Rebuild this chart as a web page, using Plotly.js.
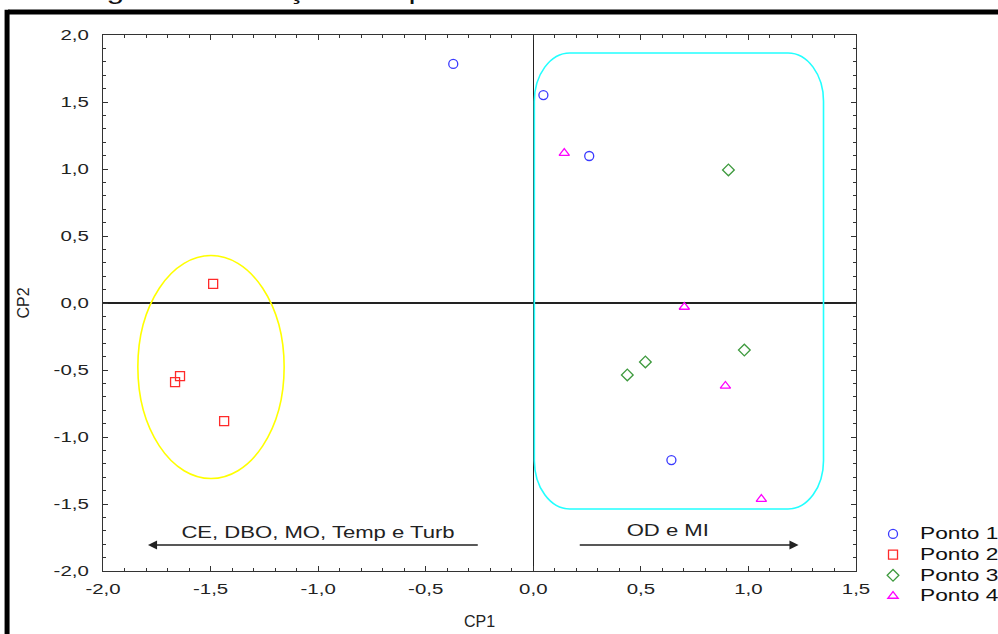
<!DOCTYPE html>
<html>
<head>
<meta charset="utf-8">
<script src="https://cdn.plot.ly/plotly-3.0.1.min.js"></script>
<style>
  html, body { margin: 0; padding: 0; background: #fff; }
  #chart { width: 998px; height: 634px; }
</style>
</head>
<body>
<div id="chart"></div>
<script>
// Series (CP1, CP2)
const seriesNames = ["Ponto 1", "Ponto 2", "Ponto 3", "Ponto 4"];
const ponto1X = [-0.372, 0.047, 0.260, 0.642];
const ponto1Y = [1.784, 1.552, 1.097, -1.172];
const ponto2X = [-1.488, -1.642, -1.665, -1.437];
const ponto2Y = [0.142, -0.545, -0.590, -0.881];
const ponto3X = [0.907, 0.981, 0.521, 0.437];
const ponto3Y = [0.993, -0.351, -0.440, -0.537];
const ponto4X = [0.144, 0.702, 0.893, 1.060];
const ponto4Y = [1.119, -0.030, -0.619, -1.463];

// Tick labels (hyphen minus and decimal comma, as in the picture)
const xTickVals = [-2, -1.5, -1, -0.5, 0, 0.5, 1, 1.5];
const xTickText = ["-2,0", "-1,5", "-1,0", "-0,5", "0,0", "0,5", "1,0", "1,5"];
const yTickVals = [-2, -1.5, -1, -0.5, 0, 0.5, 1, 1.5, 2];
const yTickText = ["-2,0", "-1,5", "-1,0", "-0,5", "0,0", "0,5", "1,0", "1,5", "2,0"];

const xTitle = "CP1";
const yTitle = "CP2";
const leftLabel = "CE, DBO, MO, Temp e Turb";
const rightLabel = "OD e MI";
const captionText = "ológicas em função dos pontos de coleta";

const symbols = ["circle-open", "square-open", "diamond-open", "triangle-up-open"];
const colors = ["#3a3aff", "#ff2a2a", "#3e9a3e", "#ff00ff"];
const xs = [ponto1X, ponto2X, ponto3X, ponto4X];
const ys = [ponto1Y, ponto2Y, ponto3Y, ponto4Y];

const traces = seriesNames.map((n, i) => ({
  type: "scatter",
  mode: "markers",
  name: '<span style="font-size:16px">' + n + '</span>',
  x: xs[i],
  y: ys[i],
  marker: { symbol: symbols[i], size: 9, color: colors[i], line: { width: 1.3, color: colors[i] } },
  cliponaxis: false
}));

// rounded rectangle (cyan) path in data units
const rx0 = 0.005, rx1 = 1.349, ry0 = -1.537, ry1 = 1.866, cx = 0.165, cy = 0.36;
const rrPath =
  `M ${rx0 + cx},${ry1} L ${rx1 - cx},${ry1} ` +
  `C ${rx1 - cx * 0.45},${ry1} ${rx1},${ry1 - cy * 0.45} ${rx1},${ry1 - cy} ` +
  `L ${rx1},${ry0 + cy} ` +
  `C ${rx1},${ry0 + cy * 0.45} ${rx1 - cx * 0.45},${ry0} ${rx1 - cx},${ry0} ` +
  `L ${rx0 + cx},${ry0} ` +
  `C ${rx0 + cx * 0.45},${ry0} ${rx0},${ry0 + cy * 0.45} ${rx0},${ry0 + cy} ` +
  `L ${rx0},${ry1 - cy} ` +
  `C ${rx0},${ry1 - cy * 0.45} ${rx0 + cx * 0.45},${ry1} ${rx0 + cx},${ry1} Z`;

const font = "Liberation Sans, Arial, sans-serif";

const axisCommon = {
  tickmode: "array",
  ticks: "inside", ticklen: 5, tickcolor: "#333", tickwidth: 1,
  showline: true, linecolor: "#333", linewidth: 1.2, mirror: "ticks",
  showgrid: false, zeroline: true, zerolinecolor: "#222", zerolinewidth: 1.1,
  tickfont: { family: font, size: 15, color: "#222" }
};

const layout = {
  width: 998,
  height: 634,
  margin: { l: 103, r: 142, t: 35, b: 63 },
  paper_bgcolor: "#ffffff",
  plot_bgcolor: "#ffffff",
  separators: ", ",
  font: { family: font, size: 15, color: "#222" },
  showlegend: true,
  legend: {
    x: 1.0133, xanchor: "left", y: 0.0977, yanchor: "top",
    font: { family: font, size: 13.6, color: "#111" },
    bgcolor: "rgba(0,0,0,0)", tracegroupgap: 0, itemwidth: 44
  },
  xaxis: Object.assign({}, axisCommon, {
    range: [-2, 1.5], tickvals: xTickVals, ticktext: xTickText,
    minor: { tick0: 0, dtick: 0.1, ticks: "inside", ticklen: 3, tickcolor: "#333" },
    ticklabelstandoff: 4,
    title: { text: xTitle, font: { family: font, size: 16, color: "#222" }, standoff: 19 }
  }),
  yaxis: Object.assign({}, axisCommon, {
    range: [-2, 2], tickvals: yTickVals, ticktext: yTickText,
    minor: { tick0: 0, dtick: 0.1, ticks: "inside", ticklen: 3, tickcolor: "#333" },
    ticklabelstandoff: 10,
    title: { text: yTitle, font: { family: font, size: 16, color: "#222" }, standoff: 29 }
  }),
  shapes: [
    { type: "circle", xref: "x", yref: "y", x0: -1.838, x1: -1.158, y0: -1.31, y1: 0.354,
      line: { color: "#ffff00", width: 1.6 } },
    { type: "path", xref: "x", yref: "y", path: rrPath, line: { color: "#22ffff", width: 1.6 } },
    // outer black frame (top and left)
    { type: "line", xref: "paper", yref: "paper", x0: -0.126, x1: 1.25, y0: 1.0429, y1: 1.0429,
      line: { color: "#000", width: 5 } },
    { type: "line", xref: "paper", yref: "paper", x0: -0.1274, x1: -0.1274, y0: 1.047, y1: -0.2,
      line: { color: "#000", width: 5 } }
  ],
  annotations: [
    { x: -1.791, y: -1.806, ax: -0.251, ay: -1.806, xref: "x", yref: "y", axref: "x", ayref: "y",
      showarrow: true, arrowhead: 2, arrowsize: 1.3, arrowwidth: 1.4, arrowcolor: "#222", text: "" },
    { x: 1.233, y: -1.806, ax: 0.209, ay: -1.806, xref: "x", yref: "y", axref: "x", ayref: "y",
      showarrow: true, arrowhead: 2, arrowsize: 1.3, arrowwidth: 1.4, arrowcolor: "#222", text: "" },
    { x: -1.0, y: -1.709, xref: "x", yref: "y", text: leftLabel, showarrow: false,
      font: { family: font, size: 16, color: "#222" } },
    { x: 0.628, y: -1.70, xref: "x", yref: "y", text: rightLabel, showarrow: false,
      font: { family: font, size: 16, color: "#222" } },
    { x: 0.3327, y: 1, xref: "paper", yref: "paper", xanchor: "center", yanchor: "bottom",
      yshift: 29, text: captionText, showarrow: false,
      font: { family: font, size: 24, color: "#111" } }
  ]
};

// The source picture is horizontally stretched; widen the texts to match.
function stretchText(el, factor, fixedLength) {
  const len = el.getComputedTextLength();
  if (!len) return;
  el.setAttribute("textLength", (fixedLength || len * factor).toFixed(1));
  el.setAttribute("lengthAdjust", "spacingAndGlyphs");
}

Plotly.newPlot("chart", traces, layout, { displayModeBar: false, staticPlot: true }).then(gd => {
  gd.querySelectorAll(".xtick text, .ytick text").forEach(t => stretchText(t, 1.36));
  gd.querySelectorAll(".legendtext").forEach(t => stretchText(t, 1.42));
  gd.querySelectorAll(".legend [clip-path]").forEach(e => e.removeAttribute("clip-path"));
  gd.querySelectorAll(".annotation-text").forEach(t => {
    if (t.textContent === captionText) stretchText(t, 1, 579);
    else stretchText(t, 1.38);
  });
});
</script>
</body>
</html>
